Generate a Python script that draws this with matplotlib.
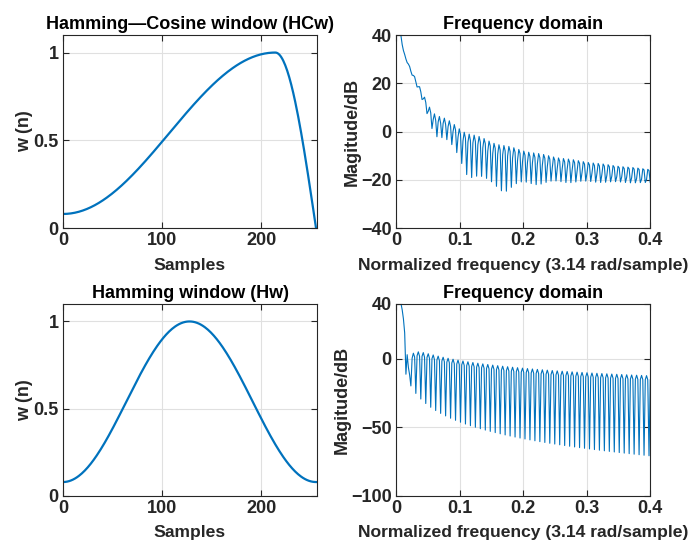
import numpy as np
import matplotlib.pyplot as plt

plt.rcParams['font.family'] = ['Liberation Sans', 'DejaVu Sans']
plt.rcParams['font.weight'] = 'bold'

# window settings
N = 256            # window length (samples)
peak = 214         # sample where the Hamming part ends in HCw
ham_a = [0.54, 0.46]
nfft = 1024        # freqz-style: 512 points over 0..pi
gain_db = 5.0      # level offset

blue = '#0072BD'
dark = '#262626'

n = np.arange(N)
hw = ham_a[0] - ham_a[1] * np.cos(2 * np.pi * n / (N - 1))

hcw = np.zeros(N)
left = n <= peak
hcw[left] = ham_a[0] - ham_a[1] * np.cos(np.pi * n[left] / peak)
right = ~left
hcw[right] = np.cos(0.5 * np.pi * (n[right] - peak) / (N - 1 - peak))


def spectrum(w):
    h = np.fft.fft(w, nfft)[:nfft // 2]
    f = np.arange(nfft // 2) / (nfft // 2)
    return f, 20 * np.log10(np.abs(h) + 1e-12) + gain_db


W, H = 691, 544
fig = plt.figure(figsize=(W / 100, H / 100), dpi=100)


def add_axes(x0, y0, x1, y1):
    return fig.add_axes([x0 / W, 1 - y1 / H, (x1 - x0) / W, (y1 - y0) / H])


def style(ax):
    ax.grid(True, color='#e0e0e0', linewidth=0.8)
    ax.set_axisbelow(True)
    ax.tick_params(direction='in', top=True, right=True, labelsize=13,
                   colors=dark, length=4, width=0.8, pad=3)
    for s in ax.spines.values():
        s.set_color(dark)
        s.set_linewidth(0.8)


fs = 13


def labels(ax, title, xl, yl):
    ax.set_title(title, fontsize=fs, fontweight='bold', pad=4)
    ax.set_xlabel(xl, fontsize=12.6, fontweight='bold', color=dark, labelpad=6)
    ax.set_ylabel(yl, fontsize=fs, fontweight='bold', color=dark, labelpad=0.5)


ax1 = add_axes(63, 35, 317, 228)
ax1.plot(n, hcw, color=blue, linewidth=1.6)
ax1.set_xlim(0, N)
ax1.set_ylim(0, 1.1)
ax1.set_xticks([0, 100, 200])
ax1.set_yticks([0, 0.5, 1])
ax1.set_yticklabels(['0', '0.5', '1'])
labels(ax1, 'Hamming\u2014Cosine window (HCw)', 'Samples', 'w (n)')
style(ax1)

ax2 = add_axes(396, 35, 650, 228)
f, mag = spectrum(hcw)
ax2.plot(f, mag, color=blue, linewidth=0.8)
ax2.set_xlim(0, 0.4)
ax2.set_ylim(-40, 40)
ax2.set_xticks([0, 0.1, 0.2, 0.3, 0.4])
ax2.set_xticklabels(['0', '0.1', '0.2', '0.3', '0.4'])
ax2.set_yticks([-40, -20, 0, 20, 40])
labels(ax2, 'Frequency domain', 'Normalized frequency (3.14 rad/sample)', 'Magitude/dB')
style(ax2)

ax3 = add_axes(63, 304, 317, 496)
ax3.plot(n, hw, color=blue, linewidth=1.6)
ax3.set_xlim(0, N)
ax3.set_ylim(0, 1.1)
ax3.set_xticks([0, 100, 200])
ax3.set_yticks([0, 0.5, 1])
ax3.set_yticklabels(['0', '0.5', '1'])
labels(ax3, 'Hamming window (Hw)', 'Samples', 'w (n)')
style(ax3)

ax4 = add_axes(396, 304, 650, 496)
f, mag = spectrum(hw)
ax4.plot(f, mag, color=blue, linewidth=0.8)
ax4.set_xlim(0, 0.4)
ax4.set_ylim(-100, 40)
ax4.set_xticks([0, 0.1, 0.2, 0.3, 0.4])
ax4.set_xticklabels(['0', '0.1', '0.2', '0.3', '0.4'])
ax4.set_yticks([-100, -50, 0, 40])
labels(ax4, 'Frequency domain', 'Normalized frequency (3.14 rad/sample)', 'Magitude/dB')
style(ax4)

fig.savefig('out.png', dpi=100)
